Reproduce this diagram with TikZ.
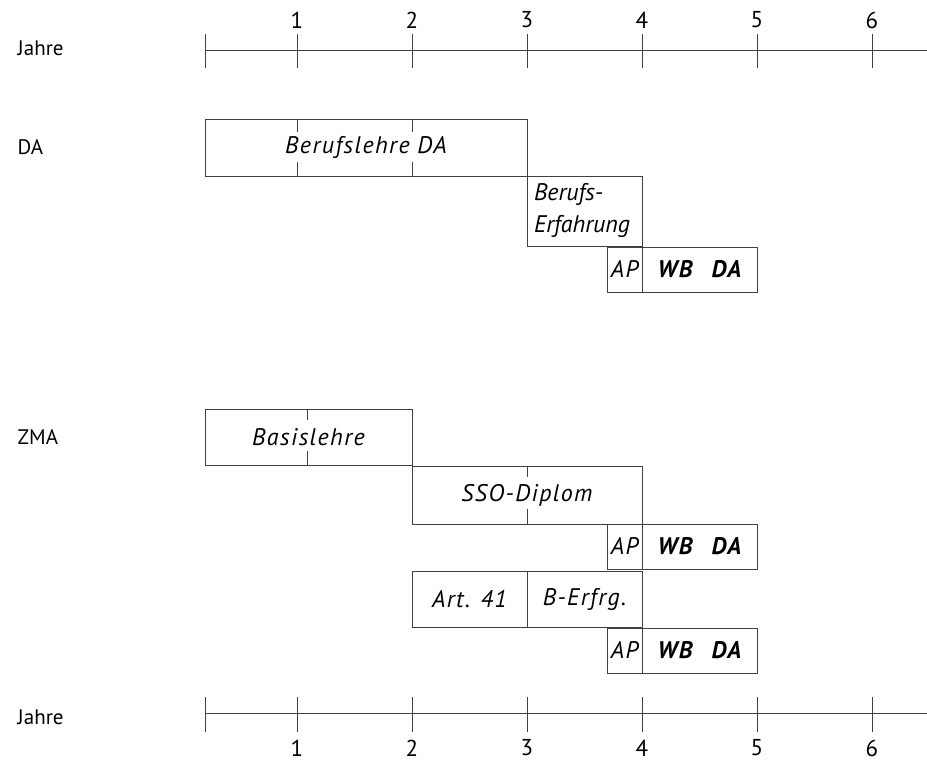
\documentclass[tikz,border=0pt]{standalone}
\usepackage{fontspec}
\setmainfont{PT Sans}
\usetikzlibrary{positioning}

\tikzset{
  line/.style={line width=0.9pt, draw=black!75},
  lab/.style={font=\fontsize{21}{25}\selectfont, anchor=west, inner sep=0pt},
  num/.style={font=\fontsize{23}{27}\selectfont, inner sep=0pt},
  txt/.style={font=\fontsize{24}{28}\selectfont\itshape\addfontfeatures{LetterSpace=6}, inner sep=0pt},
  btxt/.style={font=\fontsize{24}{28}\selectfont\bfseries\itshape\addfontfeatures{LetterSpace=6}, inner sep=0pt}
}

\begin{document}
\begin{tikzpicture}[x=115pt, y=-1pt]
    % Rahmen (Jahr 0 liegt bei x=0)
    \useasboundingbox (-1.5826,0) rectangle (6.4783,763);
    % --- Beschriftung links ---
    \node[lab] (jahreO) at (-1.43,48) {Jahre};
    \node[lab] (da) at (-1.43,147) {DA};
    \node[lab] (zma) at (-1.43,437) {ZMA};
    \node[lab] (jahreU) at (-1.43,717) {Jahre};
    % --- Zeitachsen oben und unten ---
    \draw[line] (0.2,50) -- (6.4783,50);
    \draw[line] (0.2,713) -- (6.4783,713);
    \draw[line] (0.2,34) -- (0.2,68);
    \draw[line] (0.2,697) -- (0.2,732);
    \foreach \j in {1,...,6} {
        \draw[line] (\j,34) -- (\j,68);
        \node[num] (o\j) at (\j,20) {\j};
        \draw[line] (\j,697) -- (\j,732);
        \node[num] (u\j) at (\j,748) {\j};
    }
    % --- Weg DA ---
    \draw[line] (0.2,119) rectangle (3,176);
    \foreach \j in {1,2} {
        \draw[line] (\j,119) -- (\j,132);
        \draw[line] (\j,162) -- (\j,176);
    }
    \node[txt] (lehre) at (1.6,147) {Berufslehre DA};
    \draw[line] (3,176) rectangle (4,246);
    \node[txt, align=left, anchor=west, font=\fontsize{24}{32}\selectfont\itshape] (erf) at (3.06,210) {Berufs-\\Erfahrung};
    \draw[line] (3.7,247) rectangle (5,292);
    \draw[line] (4,247) -- (4,292);
    \node[txt] (ap1) at (3.85,269) {AP};
    \node[btxt] (wb1) at (4.5,269) {WB\hspace{0.8em}DA};
    % --- Weg ZMA ---
    \draw[line] (0.2,409) rectangle (2,465);
    \draw[line] (1.087,409) -- (1.087,420);
    \draw[line] (1.087,451) -- (1.087,465);
    \node[txt] (basis) at (1.1,437) {Basislehre};
    \draw[line] (2,466) rectangle (4,524);
    \draw[line] (3,466) -- (3,477);
    \draw[line] (3,509) -- (3,524);
    \node[txt] (sso) at (3,495) {SSO-Diplom};
    \draw[line] (3.7,524) rectangle (5,569);
    \draw[line] (4,524) -- (4,569);
    \node[txt] (ap2) at (3.85,546) {AP};
    \node[btxt] (wb2) at (4.5,546) {WB\hspace{0.8em}DA};
    \draw[line] (2,571) rectangle (4,627);
    \draw[line] (3,571) -- (3,627);
    \node[txt] (art) at (2.5,599) {Art. 41};
    \node[txt] (berf) at (3.5,599) {B-Erfrg.};
    \draw[line] (3.7,628) rectangle (5,673);
    \draw[line] (4,628) -- (4,673);
    \node[txt] (ap3) at (3.85,650) {AP};
    \node[btxt] (wb3) at (4.5,650) {WB\hspace{0.8em}DA};
\end{tikzpicture}
\end{document}
